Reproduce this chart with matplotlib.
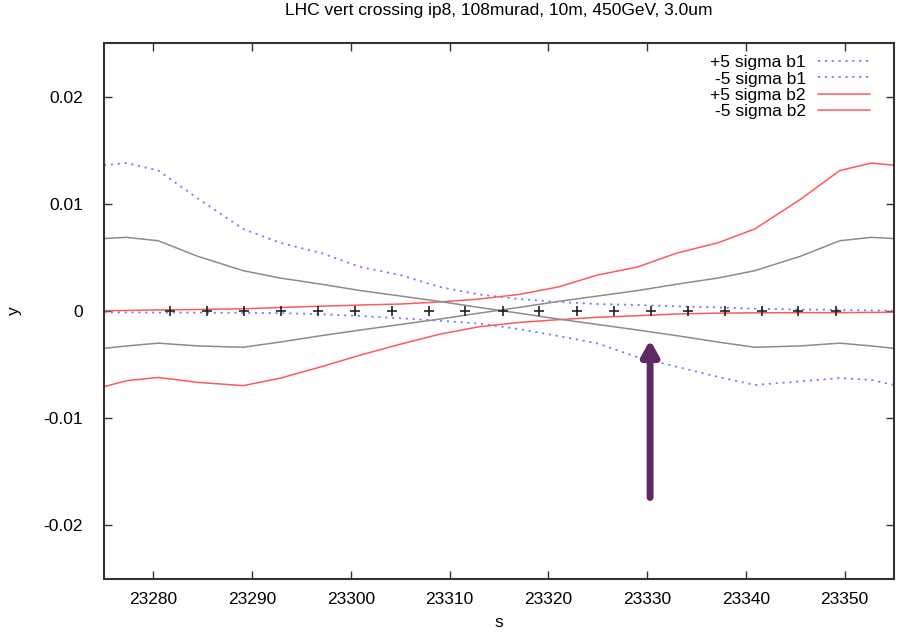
import matplotlib
matplotlib.use("Agg")
import matplotlib.pyplot as plt
from matplotlib.ticker import FuncFormatter, FixedLocator

plt.rcParams['font.family'] = ['Liberation Sans', 'DejaVu Sans']
plt.rcParams['axes.unicode_minus'] = False

title = "LHC vert crossing ip8, 108murad, 10m, 450GeV, 3.0um"

s = [23275.0, 23277.3, 23280.5, 23284.5, 23289.1, 23292.8, 23297.0, 23301.0,
     23305.0, 23309.0, 23313.0, 23317.0, 23321.0, 23325.0, 23329.0, 23333.0,
     23337.2, 23340.9, 23345.5, 23349.5, 23352.7, 23355.0]

b1_plus5 = [0.0136, 0.0138, 0.0131, 0.0105, 0.00765, 0.00637, 0.0054, 0.0041,
            0.00336, 0.00224, 0.00154, 0.00112, 0.00084, 0.00065, 0.00056, 0.00044,
            0.00033, 0.00021, 0.00014, 0.0001, 0.00005, 0.00003]
b1_minus5 = [-0.00012, -0.00013, -0.00015, -0.00015, -0.00017, -0.0002, -0.0003, -0.00047,
             -0.00068, -0.0009, -0.00117, -0.00168, -0.00233, -0.00303, -0.0043, -0.0052,
             -0.00615, -0.0069, -0.00657, -0.00625, -0.00643, -0.0069]
b2_plus5 = [0.00003, 0.00005, 0.0001, 0.00014, 0.0002, 0.00033, 0.00045, 0.00056,
            0.00065, 0.00084, 0.00112, 0.00154, 0.00224, 0.00336, 0.0041, 0.0054,
            0.00637, 0.00765, 0.0104, 0.0131, 0.0138, 0.0136]
b2_minus5 = [-0.00706, -0.0065, -0.0062, -0.00666, -0.00696, -0.00628, -0.0052, -0.0041,
             -0.0031, -0.00216, -0.00147, -0.00107, -0.00081, -0.00059, -0.00044, -0.00028,
             -0.0002, -0.00017, -0.00015, -0.00015, -0.00013, -0.00012]
b1_orbit = [0.00676, 0.00687, 0.00655, 0.0051, 0.00376, 0.00308, 0.0025, 0.0019,
            0.0014, 0.00089, 0.00033, -0.0002, -0.00075, -0.00126, -0.00177, -0.0023,
            -0.0029, -0.00338, -0.00326, -0.003, -0.00326, -0.00348]
b2_orbit = [-0.00348, -0.00326, -0.003, -0.00326, -0.00338, -0.0029, -0.0023, -0.00177,
            -0.00126, -0.00075, -0.0002, 0.00033, 0.00089, 0.0014, 0.0019, 0.0025,
            0.00308, 0.00376, 0.0051, 0.00655, 0.00687, 0.00676]

marker_s = [23281.7, 23285.4, 23289.2, 23292.9, 23296.7, 23300.4, 23304.2, 23307.9,
            23311.6, 23315.4, 23319.1, 23322.9, 23326.6, 23330.4, 23334.1, 23337.9,
            23341.6, 23345.3, 23349.1]
marker_y = [0.0] * len(marker_s)

arrow_s = 23330.3
arrow_tail_y = -0.0174
arrow_tip_y = -0.0027

xticks = [23280, 23290, 23300, 23310, 23320, 23330, 23340, 23350]
yticks = [-0.02, -0.01, 0.0, 0.01, 0.02]

blue = '#7b7bff'
red = '#ff5a5a'
gray = '#8c8c8c'

fig = plt.figure(figsize=(8.98, 6.32), dpi=100)
ax = fig.add_axes([104/898, 53/632, 790/898, 536/632])

ax.plot(s, b1_plus5, color=blue, lw=1.3, ls=(0, (1.2, 2.6)), label='+5 sigma b1')
ax.plot(s, b1_minus5, color=blue, lw=1.3, ls=(0, (1.2, 2.6)), label='-5 sigma b1')
ax.plot(s, b2_plus5, color=red, lw=1.1, label='+5 sigma b2')
ax.plot(s, b2_minus5, color=red, lw=1.1, label='-5 sigma b2')
ax.plot(s, b1_orbit, color=gray, lw=1.1)
ax.plot(s, b2_orbit, color=gray, lw=1.1)
ax.plot(marker_s, marker_y, ls='none', marker='+', color='#222222', ms=7, mew=1.2)

ax.annotate('', xy=(arrow_s, arrow_tip_y), xytext=(arrow_s, arrow_tail_y),
            arrowprops=dict(arrowstyle='-|>,head_width=0.5,head_length=0.9',
                            lw=5, color='#5d2b62', shrinkA=0, shrinkB=0))

ax.set_xlim(23275, 23355)
ax.set_ylim(-0.025, 0.025)
ax.xaxis.set_major_locator(FixedLocator(xticks))
ax.yaxis.set_major_locator(FixedLocator(yticks))
ax.yaxis.set_major_formatter(FuncFormatter(lambda v, p: '%g' % round(v, 4)))
ax.tick_params(axis='x', pad=9)
ax.tick_params(axis='y', pad=15)
ax.tick_params(direction='in', length=6, width=1, top=True, right=True,
               labelsize=12.5, colors='#333333', labelcolor='black')
for sp in ax.spines.values():
    sp.set_linewidth(1.5)
    sp.set_color('#333333')

ax.set_title(title, fontsize=12.5, pad=20)
ax.set_xlabel('s', fontsize=12.5, labelpad=6)
ax.set_ylabel('y', fontsize=12.5)
ax.yaxis.set_label_coords(-0.104, 0.5)

leg = ax.legend(loc='upper right', bbox_to_anchor=(0.985, 1.0), frameon=False,
                markerfirst=False, fontsize=12.5, handlelength=3.0,
                labelspacing=0.06, borderaxespad=0.3, handletextpad=0.7)

fig.savefig('out.png', dpi=100)
